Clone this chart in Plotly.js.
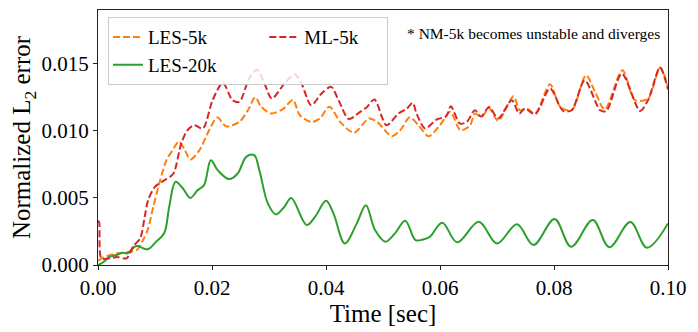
<!DOCTYPE html>
<html>
<head>
<meta charset="utf-8">
<script src="https://cdn.plot.ly/plotly-3.0.1.min.js"></script>
<style>html,body{margin:0;padding:0;background:#fff;}#chart{width:698px;height:332px;}</style>
</head>
<body>
<div id="chart"></div>
<script>
// Time in seconds
const tLES20k = [0, 0.0005, 0.0012, 0.0020, 0.0032, 0.0043, 0.0052, 0.0064, 0.0070, 0.0087, 0.0102, 0.0116, 0.0125, 0.0136, 0.0149, 0.0162, 0.0175, 0.0186, 0.0198, 0.0210, 0.0230, 0.0245, 0.0260, 0.0274, 0.0283, 0.0298, 0.0312, 0.0327, 0.0339, 0.0366, 0.0381, 0.0400, 0.0413, 0.0433, 0.0454, 0.0470, 0.0486, 0.0504, 0.0521, 0.0539, 0.0557, 0.0570, 0.0582, 0.0604, 0.0630, 0.0668, 0.0700, 0.0735, 0.0764, 0.0801, 0.0830, 0.0868, 0.0897, 0.0934, 0.0963, 0.1000];
const vLES20k = [0, 0.0001, 0.0003, 0.0006, 0.00074, 0.00092, 0.00087, 0.00136, 0.00141, 0.00117, 0.00174, 0.00236, 0.00434, 0.0062, 0.0057, 0.0050, 0.00558, 0.00595, 0.00781, 0.00707, 0.0064, 0.00682, 0.00806, 0.00818, 0.00707, 0.00459, 0.00377, 0.00434, 0.00500, 0.00298, 0.0036, 0.00478, 0.00385, 0.00161, 0.0031, 0.00446, 0.0026, 0.00174, 0.00236, 0.0033, 0.00186, 0.0019, 0.0021, 0.00315, 0.00169, 0.00322, 0.00161, 0.00303, 0.00149, 0.00342, 0.00136, 0.00335, 0.00132, 0.0032, 0.00129, 0.0031];

const tLES5k = [0, 0.0009, 0.0021, 0.0033, 0.0044, 0.0056, 0.0068, 0.0079, 0.0088, 0.0097, 0.0109, 0.0120, 0.0130, 0.0142, 0.0152, 0.0162, 0.0178, 0.0195, 0.0209, 0.0225, 0.0248, 0.0263, 0.0276, 0.0286, 0.0303, 0.0324, 0.0342, 0.0354, 0.0374, 0.0389, 0.0406, 0.0425, 0.0449, 0.0475, 0.0490, 0.0515, 0.0530, 0.0547, 0.0562, 0.0580, 0.0600, 0.0618, 0.0636, 0.0653, 0.0661, 0.0673, 0.0686, 0.0702, 0.0729, 0.0740, 0.0752, 0.0767, 0.0793, 0.0811, 0.0831, 0.0856, 0.0872, 0.0889, 0.0920, 0.0942, 0.0965, 0.0986, 0.1000];
const vLES5k = [0.0003, 0.00057, 0.00074, 0.00087, 0.00092, 0.00099, 0.00112, 0.00186, 0.00273, 0.00434, 0.00632, 0.0078, 0.0085, 0.0092, 0.0086, 0.00786, 0.00856, 0.01004, 0.0110, 0.01032, 0.01066, 0.01153, 0.0125, 0.0118, 0.0113, 0.0116, 0.0123, 0.01116, 0.01066, 0.01091, 0.0118, 0.01066, 0.00985, 0.01091, 0.01066, 0.0096, 0.01004, 0.0110, 0.01042, 0.0096, 0.01042, 0.01141, 0.01004, 0.01042, 0.01128, 0.01103, 0.01170, 0.01074, 0.01257, 0.01153, 0.01166, 0.01128, 0.01347, 0.01178, 0.01153, 0.01414, 0.0129, 0.01158, 0.01451, 0.01228, 0.0124, 0.01471, 0.01327];

const tML5k = [0, 0.0002, 0.0006, 0.0021, 0.0033, 0.0050, 0.0062, 0.0074, 0.0082, 0.0088, 0.0100, 0.0117, 0.0132, 0.0146, 0.0157, 0.0169, 0.0184, 0.0201, 0.0219, 0.0236, 0.0248, 0.0265, 0.0279, 0.0292, 0.0305, 0.0327, 0.0345, 0.0357, 0.0374, 0.0392, 0.0409, 0.0422, 0.0440, 0.0460, 0.0471, 0.0485, 0.0506, 0.0527, 0.0542, 0.0552, 0.0559, 0.0574, 0.0594, 0.0611, 0.0619, 0.0635, 0.0647, 0.0661, 0.0672, 0.0686, 0.0702, 0.0726, 0.0739, 0.0749, 0.0767, 0.0793, 0.0816, 0.0831, 0.0854, 0.0881, 0.0892, 0.0919, 0.0951, 0.0965, 0.0986, 0.1000];
const vML5k = [0.0033, 0.0032, 0.0005, 0.0005, 0.0006, 0.0005, 0.00141, 0.00198, 0.0036, 0.00484, 0.00583, 0.00632, 0.0068, 0.00905, 0.01004, 0.01042, 0.01017, 0.01228, 0.01357, 0.01228, 0.01215, 0.01389, 0.01455, 0.01352, 0.0124, 0.01352, 0.01421, 0.01352, 0.0119, 0.01277, 0.01327, 0.01228, 0.01088, 0.01141, 0.01173, 0.01233, 0.01042, 0.01128, 0.01166, 0.01208, 0.01128, 0.01017, 0.01084, 0.01109, 0.01183, 0.01054, 0.01066, 0.01153, 0.01106, 0.01178, 0.01091, 0.01228, 0.01128, 0.01166, 0.01124, 0.01315, 0.01148, 0.01153, 0.01376, 0.01153, 0.01148, 0.01426, 0.01148, 0.01228, 0.01471, 0.01307];

const xTicks = [0, 0.02, 0.04, 0.06, 0.08, 0.10];
const xTickLabels = ['0.00', '0.02', '0.04', '0.06', '0.08', '0.10'];
const yTicks = [0, 0.005, 0.010, 0.015];
const yTickLabels = ['0.000', '0.005', '0.010', '0.015'];

const FONT = 'Liberation Serif';
const NB = '\u00a0';

const traces = [
  {x: tLES5k, y: vLES5k, name: 'LES-5k', legendgroup: 'a', mode: 'lines',
   line: {color: '#ff7f0e', width: 2, dash: '7px,3px', shape: 'spline', smoothing: 0.8}},
  {x: tLES20k, y: vLES20k, name: 'LES-20k' + NB.repeat(9), legendgroup: 'a', mode: 'lines',
   line: {color: '#2ca02c', width: 2, shape: 'spline', smoothing: 1}},
  {x: tML5k, y: vML5k, name: 'ML-5k' + NB.repeat(5), legendgroup: 'b', mode: 'lines',
   line: {color: '#d62728', width: 2, dash: '7px,3px', shape: 'spline', smoothing: 0.8}}
];

const layout = {
  width: 698, height: 332,
  margin: {l: 98, r: 30, t: 10, b: 67},
  paper_bgcolor: '#fff', plot_bgcolor: '#fff',
  font: {family: FONT, color: '#000'},
  showlegend: true,
  legend: {
    x: 0.0175, y: 0.972, xanchor: 'left', yanchor: 'top',
    orientation: 'h', traceorder: 'grouped', tracegroupgap: 0,
    bgcolor: 'rgba(255,255,255,0.8)', bordercolor: '#cccccc', borderwidth: 1,
    font: {family: FONT, size: 19, color: '#000'}
  },
  xaxis: {
    range: [0, 0.1], tickvals: xTicks, ticktext: xTickLabels,
    showgrid: false, zeroline: false, showline: true, mirror: true,
    linecolor: '#222', linewidth: 1, ticks: 'outside', ticklen: 4, tickcolor: '#222',
    tickfont: {family: FONT, size: 21, color: '#000'},
    title: {text: 'Time [sec]', font: {family: FONT, size: 25, color: '#000'}, standoff: 0}
  },
  yaxis: {
    range: [0, 0.019], tickvals: yTicks, ticktext: yTickLabels,
    showgrid: false, zeroline: false, showline: true, mirror: true,
    linecolor: '#222', linewidth: 1, ticks: 'outside', ticklen: 4, tickcolor: '#222',
    tickfont: {family: FONT, size: 21, color: '#000'},
    title: {text: 'Normalized L<sub>2</sub> error', font: {family: FONT, size: 25, color: '#000'}}
  },
  annotations: [{
    xref: 'paper', yref: 'paper', x: 0.5386, y: 0.908, xanchor: 'left', yanchor: 'middle',
    text: '* NM-5k becomes unstable and diverges', showarrow: false,
    font: {family: FONT, size: 15.5, color: '#000'}
  }]
};

Plotly.newPlot('chart', traces, layout, {displayModeBar: false, staticPlot: true});
</script>
</body>
</html>
